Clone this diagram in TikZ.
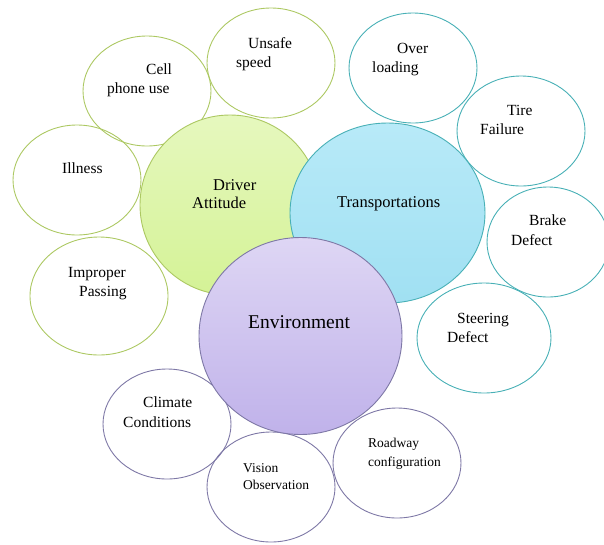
\documentclass[tikz,border=0pt]{standalone}
\usepackage{fontspec}
\setmainfont{Liberation Serif}
\usetikzlibrary{shapes.geometric}
\definecolor{drvline}{RGB}{172,200,98}
\definecolor{drvtop}{RGB}{230,248,190}
\definecolor{drvbot}{RGB}{212,242,150}
\definecolor{trnline}{RGB}{72,176,182}
\definecolor{trntop}{RGB}{184,234,248}
\definecolor{trnbot}{RGB}{160,224,242}
\definecolor{envline}{RGB}{126,120,166}
\definecolor{envtop}{RGB}{222,214,244}
\definecolor{envbot}{RGB}{192,178,234}
\tikzset{small/.style={draw, ellipse, line width=0.9pt, inner sep=0pt, minimum width=128pt, minimum height=110pt}}
\tikzset{sdrv/.style={small, color=drvline}}
\tikzset{strn/.style={small, color=trnline}}
\tikzset{senv/.style={small, color=envline}}
\tikzset{lbl/.style={anchor=base west, inner sep=0pt, font=\fontsize{15.5}{18}\selectfont}}
\tikzset{slbl/.style={lbl, font=\fontsize{13.5}{16}\selectfont}}
\tikzset{blbl/.style={lbl, font=\fontsize{16.5}{19}\selectfont}}

\begin{document}
\begin{tikzpicture}[x=1pt, y=-1pt]
        \useasboundingbox (0,0) rectangle (604,544);

        % driver attitude group
        \node[sdrv] (cell) at (147, 91) {};
        \node[sdrv] (unsafe) at (271, 63) {};
        \node[sdrv] (illness) at (77, 180) {};
        \node[sdrv, minimum width=138pt, minimum height=118pt] (improper) at (99, 296) {};

        % transportation group
        \node[strn] (over) at (413, 68) {};
        \node[strn] (tire) at (521, 131) {};
        \node[strn, minimum width=122pt] (brake) at (548, 242) {};
        \node[strn, minimum width=134pt] (steering) at (484, 338) {};

        % environment group
        \node[senv] (climate) at (167, 424) {};
        \node[senv] (vision) at (271, 487) {};
        \node[senv] (roadway) at (397, 463) {};

        % the three main circles
        \node[draw=drvline, line width=0.9pt, ellipse, top color=drvtop, bottom color=drvbot,
              minimum width=180pt, minimum height=180pt] (driver) at (230, 205) {};
        \node[draw=trnline, line width=0.9pt, ellipse, top color=trntop, bottom color=trnbot,
              minimum width=195pt, minimum height=180pt] (trans) at (387.5, 213) {};
        \node[draw=envline, line width=0.9pt, ellipse, top color=envtop, bottom color=envbot,
              minimum width=203pt, minimum height=197pt] (env) at (300.5, 336) {};

        % labels
        \node[lbl] (cellA) at (146, 74) {Cell};
        \node[lbl] (cellB) at (107, 93) {phone use};
        \node[lbl] (unsafeA) at (248, 48) {Unsafe};
        \node[lbl] (unsafeB) at (236, 67) {speed};
        \node[lbl] (illnessA) at (62, 173) {Illness};
        \node[lbl] (improperA) at (68, 277) {Improper};
        \node[lbl] (improperB) at (79, 296) {Passing};

        \node[lbl] (overA) at (397, 53) {Over};
        \node[lbl] (overB) at (372, 72) {loading};
        \node[lbl] (tireA) at (507, 115) {Tire};
        \node[lbl] (tireB) at (480, 134) {Failure};
        \node[lbl] (brakeA) at (529, 225) {Brake};
        \node[lbl] (brakeB) at (511, 245) {Defect};
        \node[lbl] (steeringA) at (457, 323) {Steering};
        \node[lbl] (steeringB) at (447, 342) {Defect};

        \node[lbl] (climateA) at (143, 407) {Climate};
        \node[lbl] (climateB) at (123, 427) {Conditions};
        \node[slbl] (visionA) at (243, 472) {Vision};
        \node[slbl] (visionB) at (243, 489) {Observation};
        \node[slbl] (roadwayA) at (368, 447) {Roadway};
        \node[slbl] (roadwayB) at (368, 466) {configuration};

        \node[blbl] (driverA) at (213, 190) {Driver};
        \node[blbl] (driverB) at (192, 208) {Attitude};
        \node[blbl] (transA) at (337, 207) {Transportations};
        \node[lbl, font=\fontsize{19.5}{22}\selectfont] (envA) at (248, 328) {Environment};
    \end{tikzpicture}
\end{document}
